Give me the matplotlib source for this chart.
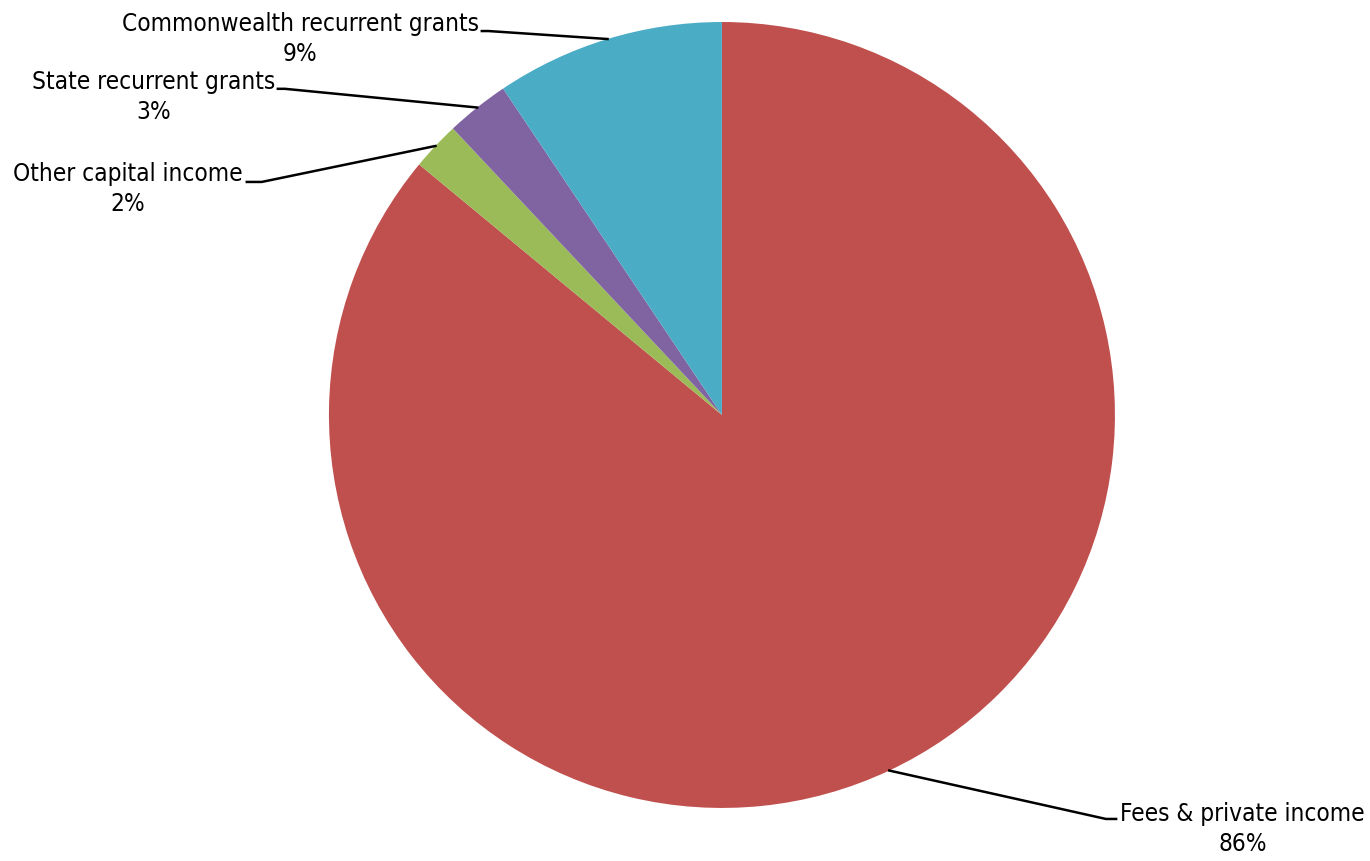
import numpy as np
import matplotlib
matplotlib.use('Agg')
import matplotlib.pyplot as plt

# income shares (%)
labels = ['Fees & private income', 'Other capital income', 'State recurrent grants', 'Commonwealth recurrent grants']
values = [86.0, 2.0, 2.6, 9.4]
colors = ['#C0504D', '#9BBB59', '#8064A2', '#4BACC6']

plt.rcParams['font.family'] = ['DejaVu Sans']

fig = plt.figure(figsize=(13.7, 8.61), dpi=100)
ax = fig.add_axes([0, 0, 1, 1])

wedges, _ = ax.pie(values, colors=colors, startangle=90, counterclock=False,
                   radius=1.0, center=(0, 0), wedgeprops=dict(linewidth=0))

ax.set_xlim(-1.837, 1.649)
ax.set_ylim(-1.135, 1.056)
ax.set_aspect('auto')
ax.axis('off')

# label placement: (elbow x, elbow y, line end x, text center x, text center y)
place = {
    'Fees & private income': (0.977, -1.028, 1.003, 1.325, -1.053),
    'Other capital income': (-1.171, 0.593, -1.209, -1.513, 0.575),
    'State recurrent grants': (-1.112, 0.830, -1.130, -1.447, 0.809),
    'Commonwealth recurrent grants': (-0.594, 0.977, -0.611, -1.073, 0.956),
}

for w, lab, v in zip(wedges, labels, values):
    mid = np.deg2rad((w.theta1 + w.theta2) / 2)
    ex, ey = np.cos(mid), np.sin(mid)
    elx, ely, tx, cx, cy = place[lab]
    ax.plot([ex, elx, tx], [ey, ely, ely], color='black', lw=1.8)
    ax.text(cx, cy, '%s\n%d%%' % (lab, round(v)), ha='center', va='center',
            fontsize=17.5, fontstretch='condensed', linespacing=1.3)

fig.savefig('out.png', dpi=100)
